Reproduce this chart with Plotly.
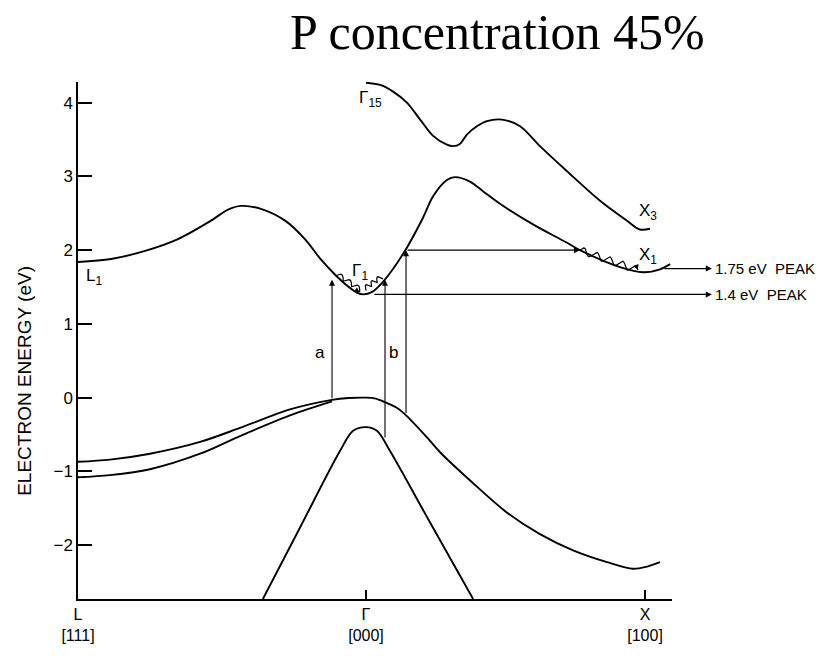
import numpy as np
import plotly.graph_objects as go

# ---- band energies (eV) along L - Gamma - X, k scaled so L=-1, Gamma=0 ----
K_CB1 = [-1.0, -0.885, -0.767, -0.653, -0.538, -0.479, -0.434, -0.365, -0.281, -0.212,
         -0.156, -0.108, -0.063, -0.03, -0.01, 0.02, 0.059, 0.129, 0.198, 0.233, 0.281,
         0.309, 0.361, 0.406, 0.465, 0.58, 0.698, 0.743, 0.882, 0.962, 1.021, 1.056]
E_CB1 = [1.84, 1.88, 1.99, 2.15, 2.40, 2.55, 2.60, 2.56, 2.40, 2.15,
         1.87, 1.67, 1.51, 1.42, 1.40, 1.43, 1.57, 1.95, 2.44, 2.73, 2.95,
         2.99, 2.93, 2.80, 2.63, 2.35, 2.10, 2.00, 1.77, 1.70, 1.74, 1.81]

K_CB2 = [0.0, 0.049, 0.094, 0.142, 0.188, 0.233, 0.281, 0.302, 0.326, 0.351, 0.385,
         0.42, 0.472, 0.535, 0.604, 0.698, 0.8125, 0.906, 0.951, 0.986]
E_CB2 = [4.27, 4.24, 4.15, 4.00, 3.77, 3.55, 3.43, 3.41, 3.44, 3.57, 3.68,
         3.75, 3.77, 3.68, 3.41, 3.07, 2.67, 2.40, 2.28, 2.29]

K_VB_HH = [-1.0, -0.889, -0.75, -0.576, -0.4375, -0.264, -0.118, -0.06, 0.0, 0.03, 0.059,
           0.108, 0.142, 0.212, 0.257, 0.372, 0.49, 0.604, 0.719, 0.837, 0.927, 0.976, 1.021]
E_VB_HH = [-0.87, -0.84, -0.76, -0.60, -0.41, -0.16, -0.03, -0.005, 0.0, -0.01, -0.05,
           -0.14, -0.25, -0.54, -0.74, -1.16, -1.56, -1.85, -2.07, -2.23, -2.32, -2.29, -2.23]

K_VB_LH = [-1.0, -0.889, -0.75, -0.576, -0.4375, -0.264, -0.118]
E_VB_LH = [-1.08, -1.05, -0.97, -0.76, -0.52, -0.24, -0.05]

K_VB_SO = [-0.358, -0.229, -0.09, -0.045, 0.0, 0.038, 0.083, 0.222, 0.372]
E_VB_SO = [-2.73, -1.76, -0.72, -0.45, -0.40, -0.45, -0.72, -1.69, -2.73]

# ---- optical transitions ----
TRANS_K = [-0.118, 0.066, 0.139]
TRANS_FROM = [-0.03, -0.56, -0.23]
TRANS_TO = [1.60, 1.60, 2.00]
TRANS_LABELS = ["a", "b"]
TRANS_LABEL_K = [-0.16, 0.094]
TRANS_LABEL_E = [0.61, 0.61]

# hot electron drifting toward X along 2.0 eV, then relaxing
HOT_E = 2.00
HOT_K = [0.139, 0.743]
RELAX_X_START = (0.743, 2.00)
RELAX_X_END = (0.944, 1.73)
RELAX_G_LEFT = [(-0.108, 1.65), (-0.022, 1.43)]
RELAX_G_RIGHT = [(0.059, 1.61), (0.0, 1.45)]

# emission peaks
PEAK_E = [1.75, 1.4]
PEAK_LABELS = ["1.75 eV  PEAK", "1.4 eV  PEAK"]
PEAK_FROM_K = [1.031, 0.024]
PEAK_TO_K = 1.201

# point labels
PT_TEXT = ["L<sub>1</sub>", "Γ<sub>1</sub>", "Γ<sub>15</sub>", "X<sub>3</sub>", "X<sub>1</sub>"]
PT_K = [-0.944, -0.021, 0.014, 0.979, 0.979]
PT_E = [1.64, 1.71, 4.05, 2.52, 1.92]

Y_TICKS = [-2, -1, 0, 1, 2, 3, 4]
Y_TICKTEXT = ["−2", "−1", "0", "1", "2", "3", "4"]
X_TICKS = [-1.0, 0.0, 0.969]
X_TICKTEXT = ["L<br>[111]", "Γ<br>[000]", "X<br>[100]"]

# ---- layout geometry ----
W, H = 825, 656
ML, MR, MT, MB = 78, 153, 82, 48
K_RANGE = [-1.0, 1.0625]
E_RANGE = [-2.73, 4.28]
PW, PH = W - ML - MR, H - MT - MB
SX = PW / (K_RANGE[1] - K_RANGE[0])
SY = PH / (E_RANGE[1] - E_RANGE[0])

INK = "black"
SANS = "Liberation Sans, Arial, sans-serif"


def px_to_paper(px, py):
    return (px - ML) / PW, (H - MB - py) / PH


def k_to_paper(k):
    return (k - K_RANGE[0]) / (K_RANGE[1] - K_RANGE[0])


def wavy(p0, p1, n, amp_px, arches=False):
    """Wavy (phonon-emission) path between two points, built in screen space."""
    u0, v0 = p0[0] * SX, p0[1] * SY
    u1, v1 = p1[0] * SX, p1[1] * SY
    du, dv = u1 - u0, v1 - v0
    length = np.hypot(du, dv)
    tu, tv = du / length, dv / length
    nu, nv = -tv, tu
    if nv < 0:
        nu, nv = -nu, -nv
    s = np.linspace(0, 1, 240)
    if arches:
        off = amp_px * np.abs(np.sin(np.pi * n * s))
    else:
        off = amp_px * np.sin(2 * np.pi * n * s)
    u = u0 + du * s + nu * off
    v = v0 + dv * s + nv * off
    return u / SX, v / SY


fig = go.Figure()

line_style = dict(color=INK, width=1.9, shape="spline", smoothing=0.9)
for kk, ee in [(K_CB1, E_CB1), (K_CB2, E_CB2), (K_VB_HH, E_VB_HH),
               (K_VB_LH, E_VB_LH), (K_VB_SO, E_VB_SO)]:
    fig.add_trace(go.Scatter(x=kk, y=ee, mode="lines", line=line_style,
                             hoverinfo="skip", showlegend=False))

# wavy relaxation paths
thin = dict(color=INK, width=1.2)
wx, wy = wavy(RELAX_X_START, RELAX_X_END, 4.5, 3.5)
fig.add_trace(go.Scatter(x=wx, y=wy, mode="lines", line=thin, hoverinfo="skip", showlegend=False))
for seg in (RELAX_G_LEFT, RELAX_G_RIGHT):
    gx, gy = wavy(seg[0], seg[1], 3, 5.0, arches=True)
    fig.add_trace(go.Scatter(x=gx, y=gy, mode="lines", line=thin, hoverinfo="skip", showlegend=False))

annotations = []


def arrow(x0, y0, x1, y1, size=1.1, width=1.1):
    annotations.append(dict(x=x1, y=y1, ax=x0, ay=y0, xref="x", yref="y",
                            axref="x", ayref="y", text="", showarrow=True,
                            arrowhead=2, arrowsize=size, arrowwidth=width,
                            arrowcolor=INK, standoff=0))


for k, e0, e1 in zip(TRANS_K, TRANS_FROM, TRANS_TO):
    arrow(k, e0, k, e1)
for lab, k, e in zip(TRANS_LABELS, TRANS_LABEL_K, TRANS_LABEL_E):
    annotations.append(dict(x=k, y=e, xref="x", yref="y", text=lab, showarrow=False,
                            font=dict(family=SANS, size=17, color=INK)))

arrow(HOT_K[0], HOT_E, HOT_K[1], HOT_E)

# small heads at the ends of the wavy paths
arrow(wx[-12], wy[-12], wx[-1], wy[-1], size=1.0)
for seg in (RELAX_G_LEFT, RELAX_G_RIGHT):
    (k0, e0), (k1, e1) = seg
    arrow(k1 + (k0 - k1) * 0.12, e1 + (e0 - e1) * 0.12, k1, e1, size=0.9)

# emission-peak arrows run past the frame, so their labels sit in paper space
for e, k0, lab in zip(PEAK_E, PEAK_FROM_K, PEAK_LABELS):
    arrow(k0, e, PEAK_TO_K, e)
    annotations.append(dict(x=k_to_paper(PEAK_TO_K) + 0.002, y=e, xref="paper", yref="y",
                            text=lab, showarrow=False, xanchor="left", yanchor="middle",
                            font=dict(family=SANS, size=15, color=INK)))

for t, k, e in zip(PT_TEXT, PT_K, PT_E):
    annotations.append(dict(x=k, y=e, xref="x", yref="y", text=t, showarrow=False,
                            font=dict(family=SANS, size=17, color=INK)))

# axis title and figure title
ax_t = px_to_paper(25, 386)
annotations.append(dict(x=ax_t[0], y=ax_t[1], xref="paper", yref="paper",
                        text="ELECTRON ENERGY (eV)", textangle=-90, showarrow=False,
                        xanchor="center", yanchor="middle",
                        font=dict(family=SANS, size=19, color=INK)))
ttl = px_to_paper(497, 31)
annotations.append(dict(x=ttl[0], y=ttl[1], xref="paper", yref="paper",
                        text="P concentration 45%", showarrow=False,
                        xanchor="center", yanchor="middle",
                        font=dict(family="Liberation Serif, Times New Roman, serif",
                                  size=50, color=INK)))

fig.update_layout(
    width=W, height=H,
    margin=dict(l=ML, r=MR, t=MT, b=MB, pad=0),
    paper_bgcolor="white", plot_bgcolor="white",
    showlegend=False,
    annotations=annotations,
    xaxis=dict(range=K_RANGE, showgrid=False, zeroline=False, showline=True,
               linecolor=INK, linewidth=1.5, ticks="inside", ticklen=9, tickwidth=1.5,
               tickcolor=INK, tickvals=X_TICKS, ticktext=X_TICKTEXT,
               tickfont=dict(family=SANS, size=16, color=INK)),
    yaxis=dict(range=E_RANGE, showgrid=False, zeroline=False, showline=True,
               linecolor=INK, linewidth=1.5, ticks="inside", ticklen=14, tickwidth=1.5,
               tickcolor=INK, tickvals=Y_TICKS, ticktext=Y_TICKTEXT,
               tickfont=dict(family=SANS, size=17, color=INK)),
)

fig.write_html("out.html")
